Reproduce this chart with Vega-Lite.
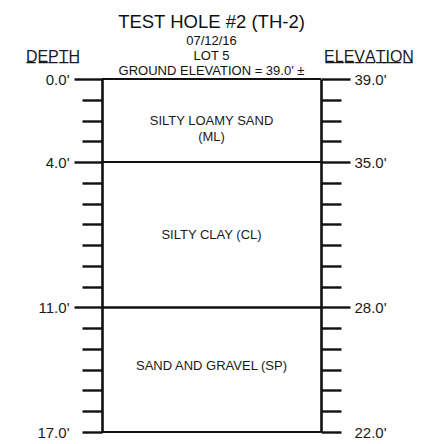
{
  "$schema": "https://vega.github.io/schema/vega-lite/v6.json",
  "width": 219,
  "height": 353,
  "autosize": "none",
  "padding": {"left": 102, "top": 79, "right": 105, "bottom": 12},
  "background": "white",
  "config": {
    "view": {"stroke": null},
    "font": "Liberation Sans",
    "axis": {
      "grid": false,
      "domainColor": "#111111",
      "domainWidth": 2.6,
      "tickColor": "#111111",
      "tickWidth": 2.4,
      "labelFontSize": 15,
      "labelColor": "#1a1a1a",
      "labelOverlap": false,
      "labelBound": false,
      "titleFontSize": 16,
      "titleFontWeight": "normal",
      "titleColor": "#1a1a1a",
      "titleAngle": 0,
      "titleAlign": "center",
      "titleBaseline": "alphabetic"
    }
  },
  "title": {
    "text": "TEST HOLE #2 (TH-2)",
    "subtitle": ["07/12/16", "LOT 5", "GROUND ELEVATION = 39.0' ±"],
    "anchor": "middle",
    "fontSize": 18.5,
    "fontWeight": "normal",
    "color": "#111111",
    "subtitleFontSize": 13,
    "subtitleColor": "#111111",
    "subtitleLineHeight": 15,
    "subtitlePadding": 4,
    "offset": -30
  },
  "datasets": {
    "boundaries": [
      {"depth": 0, "elevation": 39},
      {"depth": 4, "elevation": 35},
      {"depth": 11, "elevation": 28},
      {"depth": 17, "elevation": 22}
    ],
    "soils": [
      {"soil": ["SILTY LOAMY SAND", "(ML)"], "depth": 2},
      {"soil": "SILTY CLAY (CL)", "depth": 7.5},
      {"soil": "SAND AND GRAVEL (SP)", "depth": 13.8}
    ]
  },
  "layer": [
    {
      "data": {"name": "boundaries"},
      "mark": {"type": "rule", "color": "#111111", "strokeWidth": 2},
      "encoding": {
        "y": {
          "field": "depth",
          "type": "quantitative",
          "scale": {"domain": [0, 17], "reverse": true, "nice": false, "zero": false},
          "axis": {
            "orient": "left",
            "values": [0,1,2,3,4,5,6,7,8,9,10,11,12,13,14,15,16,17],
            "tickSize": {"condition": {"test": "indexof([0,4,11], datum.value) >= 0", "value": 28}, "value": 20},
            "labelPadding": {"condition": {"test": "datum.value == 17", "value": 13}, "value": 5},
            "labelExpr": "indexof([0,4,11,17], datum.value) >= 0 ? format(datum.value, '.1f') + \"'\" : ''",
            "title": "D̲E̲P̲T̲H̲",
            "titleX": -49.5,
            "titleY": -18
          }
        }
      }
    },
    {
      "data": {"name": "boundaries"},
      "mark": {"type": "rule", "color": "#111111", "strokeWidth": 2},
      "encoding": {
        "y": {
          "field": "elevation",
          "type": "quantitative",
          "scale": {"domain": [22, 39], "nice": false, "zero": false},
          "axis": {
            "orient": "right",
            "values": [22,23,24,25,26,27,28,29,30,31,32,33,34,35,36,37,38,39],
            "tickSize": {"condition": {"test": "indexof([39,35,28], datum.value) >= 0", "value": 29}, "value": 20},
            "labelPadding": {"condition": {"test": "datum.value == 22", "value": 13}, "value": 4},
            "labelExpr": "indexof([39,35,28,22], datum.value) >= 0 ? format(datum.value, '.1f') + \"'\" : ''",
            "title": "E̲L̲E̲V̲A̲T̲I̲O̲N̲",
            "titleX": 47.5,
            "titleY": -18
          }
        }
      }
    },
    {
      "data": {"name": "soils"},
      "mark": {"type": "text", "fontSize": 13, "color": "#1a1a1a", "lineHeight": 16, "align": "center", "baseline": "middle"},
      "encoding": {
        "y": {
          "field": "depth",
          "type": "quantitative",
          "scale": {"domain": [0, 17], "reverse": true, "nice": false, "zero": false},
          "axis": null
        },
        "text": {"field": "soil"}
      }
    }
  ],
  "resolve": {"scale": {"y": "independent"}, "axis": {"y": "independent"}}
}
